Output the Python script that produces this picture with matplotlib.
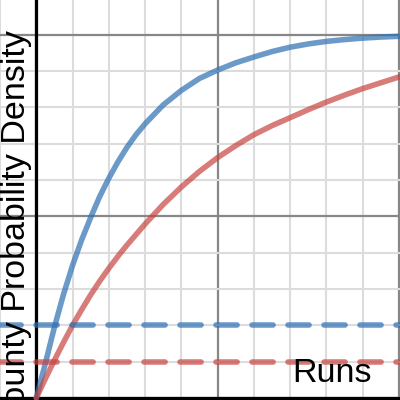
import matplotlib
matplotlib.use("Agg")
import matplotlib.pyplot as plt

plt.rcParams['font.family'] = ['Liberation Sans', 'DejaVu Sans']

# values (grid units)
runs = [0, 0.25, 0.5, 0.75, 1, 1.25, 1.5, 1.75, 2, 2.25, 2.5, 2.75, 3,
        3.5, 4, 4.5, 5, 5.5, 6, 6.5, 7, 7.5, 8, 8.5, 9, 9.5, 10, 10.2]
blue_density = [0, 0.95, 1.95, 2.85, 3.65, 4.35, 4.97, 5.55, 6.05, 6.5, 6.9, 7.25, 7.55,
                8.07, 8.47, 8.8, 9.03, 9.23, 9.39, 9.54, 9.66, 9.75, 9.82, 9.87, 9.91, 9.94, 9.96, 9.97]
red_density = [0, 0.53, 1.04, 1.53, 2.0, 2.43, 2.84, 3.22, 3.57, 3.9, 4.21, 4.5, 4.79,
               5.33, 5.81, 6.24, 6.62, 6.95, 7.25, 7.5, 7.72, 7.94, 8.15, 8.34, 8.52, 8.68, 8.84, 8.88]
thresholds = [2, 1]

blue = '#2d70b3'
red = '#c74440'

fig = plt.figure(figsize=(4, 4), dpi=100)
ax = fig.add_axes([0, 0, 1, 1])
ax.set_xlim(-0.992, 10.03)
ax.set_ylim(-0.055, 10.96)

# desmos style grid
ax.set_xticks([0, 5, 10])
ax.set_yticks([0, 5, 10])
ax.set_xticks(range(-1, 11), minor=True)
ax.set_yticks(range(0, 11), minor=True)
ax.grid(which='minor', color='#dcdcdc', lw=1.5)
ax.grid(which='major', color='#878787', lw=1.6)
ax.tick_params(which='both', length=0, labelbottom=False, labelleft=False)
for s in ax.spines.values():
    s.set_visible(False)
ax.axvline(0, color='black', lw=2.3, zorder=1.8)
ax.axhline(0, color='black', lw=2.3, zorder=1.8)

ax.plot(runs, blue_density, color=blue, alpha=0.7, lw=4, solid_capstyle='round',
        solid_joinstyle='round', zorder=3)
ax.plot(runs, red_density, color=red, alpha=0.7, lw=4, solid_capstyle='round',
        solid_joinstyle='round', zorder=3)
for t, c in zip(thresholds, [blue, red]):
    ax.axhline(t, color=c, alpha=0.7, lw=4, dashes=(3.8, 2.68),
               dash_capstyle='round', zorder=3)

fig.text(25 / 400, 1 - 30 / 400, 'Bounty Probability Density', fontsize=24.5,
         rotation=90, rotation_mode='anchor', ha='right', va='baseline', zorder=5)
fig.text(292 / 400, 1 - 382 / 400, 'Runs', fontsize=24.5, ha='left', va='baseline', zorder=5)

fig.savefig('out.png', dpi=100)
